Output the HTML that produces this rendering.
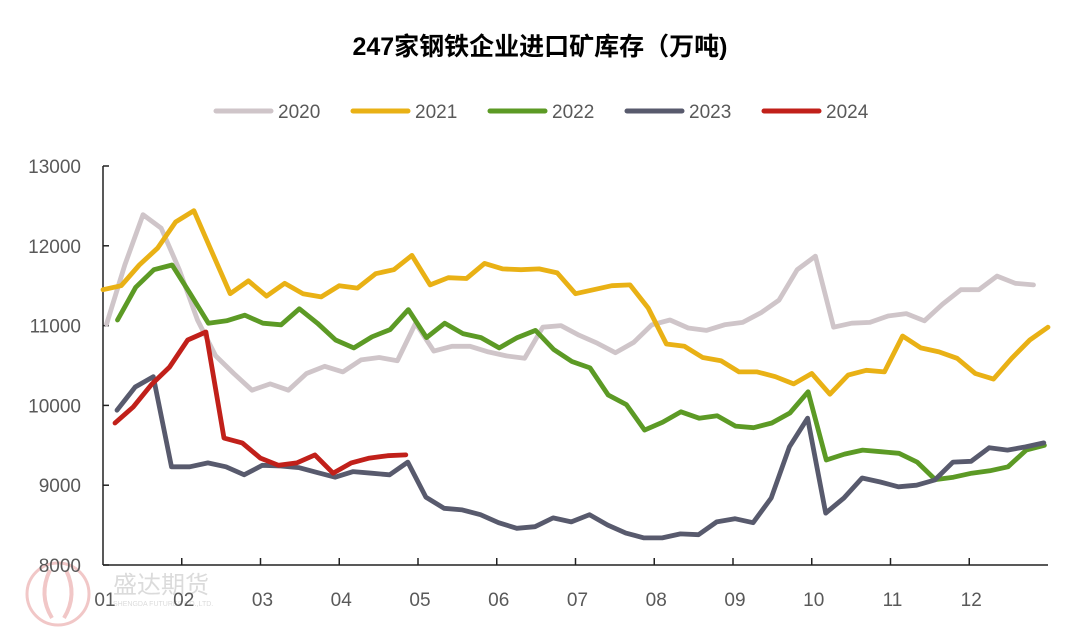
<!DOCTYPE html>
<html><head><meta charset="utf-8">
<style>
body{margin:0;background:#fff;}
svg{display:block;font-family:"Liberation Sans","Noto Sans CJK SC",sans-serif;}
</style></head>
<body>
<svg id="chart" width="1080" height="630" viewBox="0 0 1080 630">
  <g opacity="0.35">
    <circle cx="58" cy="594" r="31" fill="none" stroke="#d86060" stroke-width="3"/>
    <path d="M50 570 Q38 595 52 618 M66 570 Q78 595 64 618" stroke="#d86060" stroke-width="4" fill="none"/>
    <text x="113" y="593" font-size="24" fill="#999">盛达期货</text>
    <text x="113" y="606" font-size="7" fill="#999">SHENGDA FUTURES CO.,LTD.</text>
  </g>
  <text x="540" y="55" text-anchor="middle" font-size="25" font-weight="bold" fill="#000">247家钢铁企业进口矿库存（万吨)</text>
  <g id="legend"></g>
  <g id="axes"></g>
  <g id="series"></g>
</svg>
<script>
const years = ["2020","2021","2022","2023","2024"];
const colors = ["#cfc5c9","#e9b115","#5c9a25","#585a6d","#c1201a"];
const startWeek = [0.2,0,0.8,0.77,0.66];
const s2020 = [11020,11760,12390,12220,11700,11070,10620,10400,10190,10270,10190,10400,10490,10420,10570,10600,10560,11030,10680,10740,10740,10670,10620,10590,10980,11000,10880,10780,10660,10790,11010,11070,10970,10940,11010,11040,11160,11320,11700,11870,10980,11030,11040,11120,11150,11060,11270,11450,11450,11620,11530,11510];
const s2021 = [11450,11500,11760,11970,12300,12440,11920,11400,11560,11370,11530,11400,11360,11500,11470,11650,11700,11880,11510,11600,11590,11780,11710,11700,11710,11660,11400,11450,11500,11510,11220,10770,10740,10600,10560,10420,10420,10360,10270,10400,10140,10380,10440,10420,10870,10720,10670,10590,10400,10330,10590,10820,10980];
const s2022 = [11070,11480,11700,11760,11400,11030,11060,11130,11030,11010,11210,11030,10820,10720,10860,10950,11200,10850,11030,10900,10850,10720,10850,10940,10700,10550,10470,10130,10010,9690,9790,9920,9840,9870,9740,9720,9780,9905,10170,9316,9390,9440,9420,9400,9290,9070,9100,9150,9180,9230,9440,9500];
const s2023 = [9940,10230,10360,9230,9230,9280,9230,9130,9250,9240,9220,9160,9100,9170,9150,9130,9290,8850,8710,8690,8630,8530,8460,8480,8590,8540,8630,8500,8400,8340,8340,8390,8380,8540,8580,8530,8840,9480,9840,8650,8840,9090,9040,8980,9000,9065,9290,9300,9470,9440,9480,9530];
const s2024 = [9780,9980,10260,10480,10820,10920,9590,9530,9340,9250,9280,9380,9150,9280,9340,9370,9380];
const seriesData = [s2020,s2021,s2022,s2023,s2024];
const yTicks = [8000,9000,10000,11000,12000,13000];
const monthLabels = ["01","02","03","04","05","06","07","08","09","10","11","12"];

const NS="http://www.w3.org/2000/svg";
const X0=103,X1=1048,Y0=565,Y1=166,VMIN=8000,VMAX=13000,WEEK=(X1-X0)/52;
const xWeek=w=>X0+w*WEEK;
const xMonth=m=>X0+m*(X1-X0)/12;
const yScale=v=>Y0-(v-VMIN)/(VMAX-VMIN)*(Y0-Y1);
function mk(tag,attrs,parent){const e=document.createElementNS(NS,tag);for(const k in attrs)e.setAttribute(k,attrs[k]);parent.appendChild(e);return e;}

const axes=document.getElementById('axes');
let a=mk('line',{x1:X0,y1:Y1,x2:X0,y2:Y0,stroke:'#222','stroke-width':1.5},axes);


a=mk('line',{x1:X0,y1:Y0,x2:X1,y2:Y0,stroke:'#222','stroke-width':1.5},axes);


yTicks.forEach(v=>{
  const y=yScale(v);
  const t=mk('line',{x1:X0,y1:y,x2:X0+6,y2:y,stroke:'#222','stroke-width':1.5},axes);
  
  
  const l=mk('text',{x:81,y:y+7,'text-anchor':'end','font-size':19,fill:'#595959'},axes);
  l.textContent=v;
  
  
});
monthLabels.forEach((m,i)=>{
  const x=xMonth(i);
  if(i>0){
    const t=mk('line',{x1:x,y1:Y0,x2:x,y2:Y0-7,stroke:'#222','stroke-width':1.5},axes);
    
    
  }
  const l=mk('text',{x:x+2,y:606,'text-anchor':'middle','font-size':19,fill:'#595959'},axes);
  l.textContent=m;
  
  
});

const ser=document.getElementById('series');
seriesData.forEach((d,si)=>{
  const pts=d.map((v,i)=>xWeek(i+startWeek[si]).toFixed(1)+','+yScale(v).toFixed(1)).join(' ');
  const p=mk('polyline',{points:pts,fill:'none',stroke:colors[si],'stroke-width':4.8,'stroke-linejoin':'round','stroke-linecap':'round'},ser);
  
  
});

const leg=document.getElementById('legend');
years.forEach((yr,i)=>{
  const x=216+i*137;
  const g=mk('g',{},leg);
  
  
  mk('line',{x1:x,y1:111,x2:x+55,y2:111,stroke:colors[i],'stroke-width':5,'stroke-linecap':'round'},g);
  const t=mk('text',{x:x+62,y:118,'font-size':19,fill:'#595959'},g);
  t.textContent=yr;
});
</script>
</body></html>
